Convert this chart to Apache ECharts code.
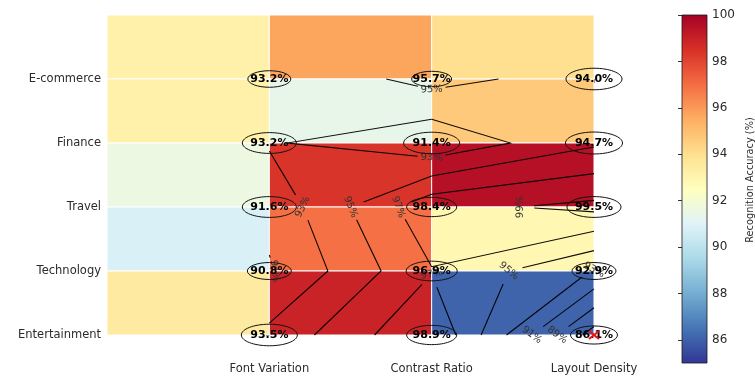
<!DOCTYPE html>
<html>
<head>
<meta charset="utf-8">
<title>Recognition Accuracy by Sector</title>
<script src="https://cdn.jsdelivr.net/npm/echarts@6/dist/echarts.min.js"></script>
<style>
  html, body { margin: 0; padding: 0; background: #ffffff; }
  #chart { width: 755px; height: 378px; }
</style>
</head>
<body>
<div id="chart"></div>
<script>
// ---- data ----
const sectors = ['E-commerce', 'Finance', 'Travel', 'Technology', 'Entertainment'];
const factors = ['Font Variation', 'Contrast Ratio', 'Layout Density'];
const fontVariation = [93.2, 93.2, 91.6, 90.8, 93.5];
const contrastRatio = [95.7, 91.4, 98.4, 96.9, 98.9];
const layoutDensity = [94.0, 94.7, 99.5, 92.9, 86.1];
const contourLevels = [87, 89, 91, 93, 95, 97, 99];
const colorbarTicks = [86, 88, 90, 92, 94, 96, 98, 100];
const colorRange = [85, 100];

// which grid edge (col,row -> col,row) carries the inline label of a contour level
const contourLabelSpots = [
  [95, [1, 0], [1, 1]],
  [93, [1, 1], [1, 2]],
  [93, [0, 2], [1, 2]],
  [95, [0, 2], [1, 2]],
  [97, [0, 2], [1, 2]],
  [99, [1, 2], [2, 2]],
  [91, [0, 3], [1, 3]],
  [97, [1, 3], [1, 4]],
  [95, [1, 3], [2, 3]],
  [93, [2, 2], [2, 3]],
  [91, [1, 4], [2, 4]],
  [89, [1, 4], [2, 4]]
];

// badge outline widths in px, row by row
const badgeWidths = [
  [43, 40, 56],
  [54, 56, 57],
  [54, 50, 54],
  [44, 51, 44],
  [56, 50, 47]
];

// RdYlBu reversed (low -> high)
const rdYlBuR = ['#313695', '#4575b4', '#74add1', '#abd9e9', '#e0f3f8', '#ffffbf',
                 '#fee090', '#fdae61', '#f46d43', '#d73027', '#a50026'];

// ---- derived tables ----
const z = sectors.map((s, r) => [fontVariation[r], contrastRatio[r], layoutDensity[r]]);
const cellData = [];
z.forEach((row, r) => row.forEach((v, c) => cellData.push([c, r, v])));

let minCell = cellData[0];
cellData.forEach(d => { if (d[2] < minCell[2]) minCell = d; });

// marching squares with linear interpolation, chained into polylines
function traceLevel(level) {
  const R = z.length, C = z[0].length, pts = {}, segs = [];
  const edge = (c0, r0, c1, r1) => {
    const a = z[r0][c0], b = z[r1][c1];
    if ((a - level) * (b - level) >= 0) return null;
    const t = (level - a) / (b - a);
    const key = c0 + ',' + r0 + '-' + c1 + ',' + r1;
    pts[key] = [c0 + t * (c1 - c0), r0 + t * (r1 - r0)];
    return key;
  };
  for (let r = 0; r < R - 1; r++) {
    for (let c = 0; c < C - 1; c++) {
      const top = edge(c, r, c + 1, r);
      const right = edge(c + 1, r, c + 1, r + 1);
      const bottom = edge(c, r + 1, c + 1, r + 1);
      const left = edge(c, r, c, r + 1);
      const found = [top, right, bottom, left].filter(Boolean);
      if (found.length === 2) {
        segs.push(found);
      } else if (found.length === 4) {
        const mid = (z[r][c] + z[r][c + 1] + z[r + 1][c] + z[r + 1][c + 1]) / 4 > level;
        [[z[r][c], top, left], [z[r][c + 1], top, right],
         [z[r + 1][c + 1], right, bottom], [z[r + 1][c], bottom, left]]
          .forEach(([v, e1, e2]) => { if ((v > level) !== mid) segs.push([e1, e2]); });
      }
    }
  }
  const adj = {};
  segs.forEach((s, i) => s.forEach(k => { (adj[k] = adj[k] || []).push(i); }));
  const used = segs.map(() => false);
  const walk = startKey => {
    const keys = [startKey];
    let cur = startKey;
    for (;;) {
      const next = (adj[cur] || []).find(i => !used[i]);
      if (next === undefined) break;
      used[next] = true;
      cur = segs[next][0] === cur ? segs[next][1] : segs[next][0];
      keys.push(cur);
    }
    return keys;
  };
  const chains = [];
  Object.keys(adj).filter(k => adj[k].length === 1).forEach(k => {
    if (!used[adj[k][0]]) chains.push(walk(k));
  });
  segs.forEach((s, i) => { if (!used[i]) chains.push(walk(s[0])); });
  return chains.map(keys => ({ level, keys, pts: keys.map(k => pts[k]), labels: [] }));
}

const contourPaths = [];
contourLevels.forEach(l => traceLevel(l).forEach(p => contourPaths.push(p)));
contourLabelSpots.forEach(([level, a, b]) => {
  const key = a[0] + ',' + a[1] + '-' + b[0] + ',' + b[1];
  const path = contourPaths.find(p => p.level === level && p.keys.indexOf(key) >= 0);
  if (path) path.labels.push({ vertex: path.keys.indexOf(key), text: level + '%' });
});

// ---- drawing helpers ----
const measureCtx = document.createElement('canvas').getContext('2d');
const contourFont = '10px "DejaVu Sans"';
function textWidth(s, font) { measureCtx.font = font; return measureCtx.measureText(s).width; }

function renderCell(params, api) {
  const c = api.value(0), r = api.value(1);
  const p0 = api.coord([c - 1, r - 1]);
  const p1 = api.coord([c, r]);
  return {
    type: 'rect',
    shape: { x: p0[0], y: p0[1], width: p1[0] - p0[0], height: p1[1] - p0[1] },
    style: { fill: api.visual('color'), stroke: '#ffffff', lineWidth: 1 }
  };
}

function renderContour(params, api) {
  const path = contourPaths[params.dataIndex];
  const px = path.pts.map(p => api.coord(p));
  const cum = [0];
  for (let i = 1; i < px.length; i++) {
    cum.push(cum[i - 1] + Math.hypot(px[i][0] - px[i - 1][0], px[i][1] - px[i - 1][1]));
  }
  const total = cum[cum.length - 1];
  const at = s => {
    s = Math.max(0, Math.min(total, s));
    let i = 0;
    while (i < cum.length - 2 && cum[i + 1] < s) i++;
    const len = cum[i + 1] - cum[i];
    const t = len ? (s - cum[i]) / len : 0;
    return [px[i][0] + t * (px[i + 1][0] - px[i][0]), px[i][1] + t * (px[i + 1][1] - px[i][1])];
  };
  const slice = (s0, s1) => {
    const out = [at(s0)];
    for (let i = 0; i < px.length; i++) if (cum[i] > s0 && cum[i] < s1) out.push(px[i]);
    out.push(at(s1));
    return out;
  };
  const children = [];
  const gaps = [];
  path.labels.forEach(lab => {
    const s = cum[lab.vertex];
    const w = textWidth(lab.text, contourFont);
    const a = at(s - w / 2), b = at(s + w / 2);
    let ang = Math.atan2(b[1] - a[1], b[0] - a[0]);
    if (ang > Math.PI / 2) ang -= Math.PI;
    if (ang < -Math.PI / 2) ang += Math.PI;
    gaps.push([s - w / 2 - 3, s + w / 2 + 3]);
    children.push({
      type: 'text', x: px[lab.vertex][0], y: px[lab.vertex][1], rotation: ang, z2: 5,
      style: { text: lab.text, font: contourFont, fill: '#333333', align: 'center', verticalAlign: 'middle' }
    });
  });
  gaps.sort((g, h) => g[0] - h[0]);
  let start = 0;
  const pieces = [];
  gaps.forEach(g => { if (g[0] > start) pieces.push([start, g[0]]); start = Math.max(start, g[1]); });
  if (start < total) pieces.push([start, total]);
  pieces.forEach(([s0, s1]) => {
    children.push({
      type: 'polyline', shape: { points: slice(s0, s1) },
      style: { stroke: '#000000', lineWidth: 1.1, fill: null, opacity: 0.95 }
    });
  });
  return { type: 'group', children };
}

function renderBadge(params, api) {
  const c = api.value(0), r = api.value(1), v = api.value(2);
  const p = api.coord([c, r]);
  const w = badgeWidths[r][c];
  return {
    type: 'group',
    children: [
      { type: 'ellipse', shape: { cx: p[0], cy: p[1], rx: w / 2, ry: w * 0.385 / 2 },
        style: { fill: null, stroke: '#111111', lineWidth: 1 } },
      { type: 'text', x: p[0], y: p[1],
        style: { text: v.toFixed(1) + '%', font: 'bold 11px "DejaVu Sans"', fill: '#000000',
                 align: 'center', verticalAlign: 'middle' } }
    ]
  };
}

function renderMinMark(params, api) {
  const p = api.coord([api.value(0), api.value(1)]);
  const style = { stroke: '#ee1111', lineWidth: 2 };
  return {
    type: 'group',
    children: [
      { type: 'line', shape: { x1: p[0] - 5, y1: p[1] - 4, x2: p[0] + 5, y2: p[1] + 4 }, style },
      { type: 'line', shape: { x1: p[0] - 5, y1: p[1] + 4, x2: p[0] + 5, y2: p[1] - 4 }, style }
    ]
  };
}

function renderColorbar(params, api) {
  const p0 = api.coord([0, colorRange[1]]);
  const p1 = api.coord([1, colorRange[0]]);
  const stops = rdYlBuR.map((col, i) => ({ offset: 1 - i / (rdYlBuR.length - 1), color: col }))
    .sort((a, b) => a.offset - b.offset);
  return {
    type: 'rect',
    shape: { x: p0[0], y: p0[1], width: p1[0] - p0[0], height: p1[1] - p0[1] },
    style: { fill: new echarts.graphic.LinearGradient(0, 0, 0, 1, stops), stroke: '#1a1a1a', lineWidth: 0.8 }
  };
}

const axisText = { fontFamily: 'DejaVu Sans', fontSize: 11.5, color: '#2b2b2b' };

const option = {
  animation: false,
  backgroundColor: '#ffffff',
  grid: [
    { left: 107, right: 161, top: 15, bottom: 43 },
    { left: 682, width: 25, top: 15, bottom: 15 }
  ],
  xAxis: [
    {
      type: 'value', gridIndex: 0, min: -1, max: 2, offset: 23,
      axisLine: { show: false },
      splitLine: { show: false },
      axisTick: { show: true, length: 4, customValues: [0, 1, 2], lineStyle: { color: '#333333' } },
      axisLabel: Object.assign({ customValues: [0, 1, 2], margin: 5,
        formatter: v => factors[Math.round(v)] || '' }, axisText)
    },
    { type: 'value', gridIndex: 1, min: 0, max: 1, show: false }
  ],
  yAxis: [
    {
      type: 'value', gridIndex: 0, min: -1, max: 4, inverse: true,
      axisLine: { show: false },
      splitLine: { show: false },
      axisTick: { show: true, length: 3.5, customValues: [0, 1, 2, 3, 4], lineStyle: { color: '#333333' } },
      axisLabel: Object.assign({ customValues: [0, 1, 2, 3, 4], margin: 6,
        formatter: v => sectors[Math.round(v)] || '' }, axisText)
    },
    {
      type: 'value', gridIndex: 1, min: colorRange[0], max: colorRange[1], position: 'right',
      axisLine: { show: false },
      splitLine: { show: false },
      axisTick: { show: true, inside: true, length: 4, customValues: colorbarTicks, lineStyle: { color: '#333333' } },
      axisLabel: Object.assign({ customValues: colorbarTicks, margin: 5 }, axisText, { fontSize: 12 })
    }
  ],
  visualMap: {
    show: false, type: 'continuous', seriesIndex: 0, dimension: 2,
    min: colorRange[0], max: colorRange[1], inRange: { color: rdYlBuR }
  },
  graphic: [{
    type: 'text', x: 750, y: 180, rotation: Math.PI / 2,
    style: { text: 'Recognition Accuracy (%)', font: '9.8px "DejaVu Sans"', fill: '#2b2b2b',
             align: 'center', verticalAlign: 'middle' }
  }],
  series: [
    { type: 'custom', name: 'cells', xAxisIndex: 0, yAxisIndex: 0, data: cellData, renderItem: renderCell, z: 1, silent: true },
    { type: 'custom', name: 'contours', xAxisIndex: 0, yAxisIndex: 0, clip: false,
      data: contourPaths.map(p => [p.pts[0][0], p.pts[0][1]]), renderItem: renderContour, z: 2, silent: true },
    { type: 'custom', name: 'badges', xAxisIndex: 0, yAxisIndex: 0, clip: false,
      data: cellData, renderItem: renderBadge, z: 3, silent: true },
    { type: 'custom', name: 'lowest', xAxisIndex: 0, yAxisIndex: 0, clip: false,
      data: [[minCell[0], minCell[1]]], renderItem: renderMinMark, z: 4, silent: true },
    { type: 'custom', name: 'colorbar', xAxisIndex: 1, yAxisIndex: 1,
      data: [[0, colorRange[0]]], renderItem: renderColorbar, z: 1, silent: true }
  ]
};

const chart = echarts.init(document.getElementById('chart'), null, { renderer: 'canvas' });
chart.setOption(option);
</script>
</body>
</html>
